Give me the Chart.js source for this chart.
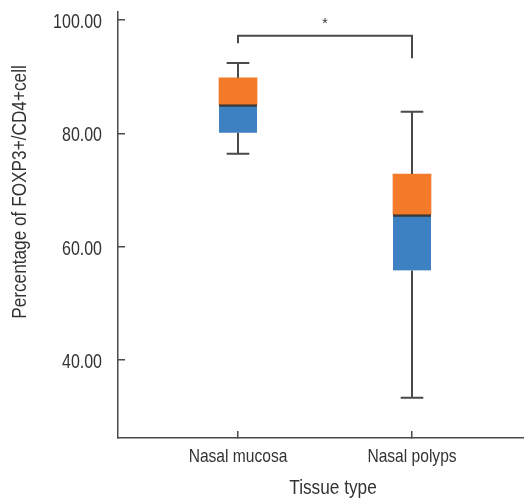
<!DOCTYPE html>
<html>
<head>
<meta charset="utf-8">
<script src="https://cdn.jsdelivr.net/npm/chart.js@4/dist/chart.umd.min.js"></script>
<style>
html, body { margin: 0; padding: 0; background: #fff; }
#wrap { position: relative; width: 524px; height: 498px; }
</style>
</head>
<body>
<div id="wrap"><canvas id="chart" width="524" height="498"></canvas></div>
<script>
// box plot values
const categories = ["Nasal mucosa", "Nasal polyps"];
const whiskerMax = [92.4, 83.8];
const q3 = [89.8, 72.8];
const medians = [85.05, 65.65];
const q1 = [80.1, 55.8];
const whiskerMin = [76.4, 33.35];
const yTicks = [40, 60, 80, 100];

// significance bracket: left foot, top, right foot
const bracket = [95.9, 97.2, 93.25];
const sigLabel = "*";

const xTitle = "Tissue type";
const yTitle = "Percentage of FOXP3+/CD4+cell";

const FONT = '"Liberation Sans", Arial, sans-serif';
const NARROW = 0.82; // the original uses a condensed face
const INK = "#333333";
const LINE = "#4a4a4a";

// whiskers as one broken line
const capHalf = 0.065;
const whiskerPoints = [];
categories.forEach((c, i) => {
    const x = i + 1;
    whiskerPoints.push(
        { x: x - capHalf, y: whiskerMax[i] }, { x: x + capHalf, y: whiskerMax[i] }, { x: x, y: null },
        { x: x, y: whiskerMax[i] }, { x: x, y: q3[i] }, { x: x, y: null },
        { x: x, y: q1[i] }, { x: x, y: whiskerMin[i] }, { x: x, y: null },
        { x: x - capHalf, y: whiskerMin[i] }, { x: x + capHalf, y: whiskerMin[i] }, { x: x, y: null }
    );
});

const bracketPoints = [
    { x: 1, y: bracket[0] },
    { x: 1, y: bracket[1] },
    { x: 2, y: bracket[1] },
    { x: 2, y: bracket[2] }
];

// condensed text: squeeze horizontally around the anchor
function narrowText(ctx, text, x, y, size, align, rotate) {
    ctx.save();
    ctx.translate(x, y);
    if (rotate) ctx.rotate(rotate);
    ctx.scale(NARROW, 1);
    ctx.font = size + "px " + FONT;
    ctx.textAlign = align;
    ctx.textBaseline = "middle";
    ctx.fillText(text, 0, 0);
    ctx.restore();
}

// tick labels, titles and the star
const textLayer = {
    id: "textLayer",
    afterDraw(chart) {
        const { ctx, scales } = chart;
        const xs = scales.x, ys = scales.y;
        ctx.save();
        ctx.fillStyle = INK;

        ys.ticks.forEach(t => {
            narrowText(ctx, t.value.toFixed(2), ys.right - 16, ys.getPixelForValue(t.value) + 2.5, 19.5, "right");
        });
        xs.ticks.forEach(t => {
            narrowText(ctx, categories[t.value - 1], xs.getPixelForValue(t.value), xs.top + 19, 19, "center");
        });

        narrowText(ctx, xTitle, 333, 488, 21, "center");
        narrowText(ctx, yTitle, 20, 192, 21, "center", -Math.PI / 2);

        ctx.font = "14px " + FONT;
        ctx.textAlign = "center";
        ctx.textBaseline = "middle";
        ctx.fillText(sigLabel, xs.getPixelForValue(1.5), ys.getPixelForValue(bracket[1] + 2.0));
        ctx.restore();
    }
};

new Chart(document.getElementById("chart"), {
    type: "bar",
    data: {
        datasets: [
            {
                label: "Q1-median",
                data: categories.map((c, i) => ({ x: i + 1, y: [q1[i], medians[i]] })),
                backgroundColor: "#3d81c3",
                borderColor: "#3a3a3a",
                borderWidth: { top: 2.5, right: 0, bottom: 0, left: 0 },
                borderSkipped: false,
                barThickness: 38,
                grouped: false,
                order: 2
            },
            {
                label: "median-Q3",
                data: categories.map((c, i) => ({ x: i + 1, y: [medians[i], q3[i]] })),
                backgroundColor: "#f27a28",
                borderWidth: 0,
                barThickness: 38,
                grouped: false,
                order: 3
            },
            {
                type: "line",
                label: "whiskers",
                data: whiskerPoints,
                borderColor: LINE,
                borderWidth: 2,
                pointRadius: 0,
                spanGaps: false,
                tension: 0,
                order: 1
            },
            {
                type: "line",
                label: "bracket",
                data: bracketPoints,
                borderColor: LINE,
                borderWidth: 2,
                pointRadius: 0,
                tension: 0,
                order: 1
            }
        ]
    },
    options: {
        responsive: false,
        animation: false,
        layout: { padding: { top: 12, right: 0, bottom: 0, left: 0 } },
        plugins: {
            legend: { display: false },
            tooltip: { enabled: false }
        },
        scales: {
            x: {
                type: "linear",
                offset: false,
                min: 0.3103,
                max: 2.6437,
                afterBuildTicks: scale => { scale.ticks = categories.map((c, i) => ({ value: i + 1 })); },
                afterFit: scale => { scale.height = 60; },
                ticks: { display: false },
                grid: { offset: false, drawOnChartArea: false, tickLength: -7, color: LINE, lineWidth: 1.5 },
                border: { color: LINE, width: 1.5 }
            },
            y: {
                min: 26.24,
                max: 101.4,
                afterBuildTicks: scale => { scale.ticks = yTicks.map(v => ({ value: v })); },
                afterFit: scale => { scale.width = 118; },
                ticks: { display: false },
                grid: { drawOnChartArea: false, tickLength: -7, color: LINE, lineWidth: 1.5 },
                border: { color: LINE, width: 1.5 }
            }
        }
    },
    plugins: [textLayer]
});
</script>
</body>
</html>
